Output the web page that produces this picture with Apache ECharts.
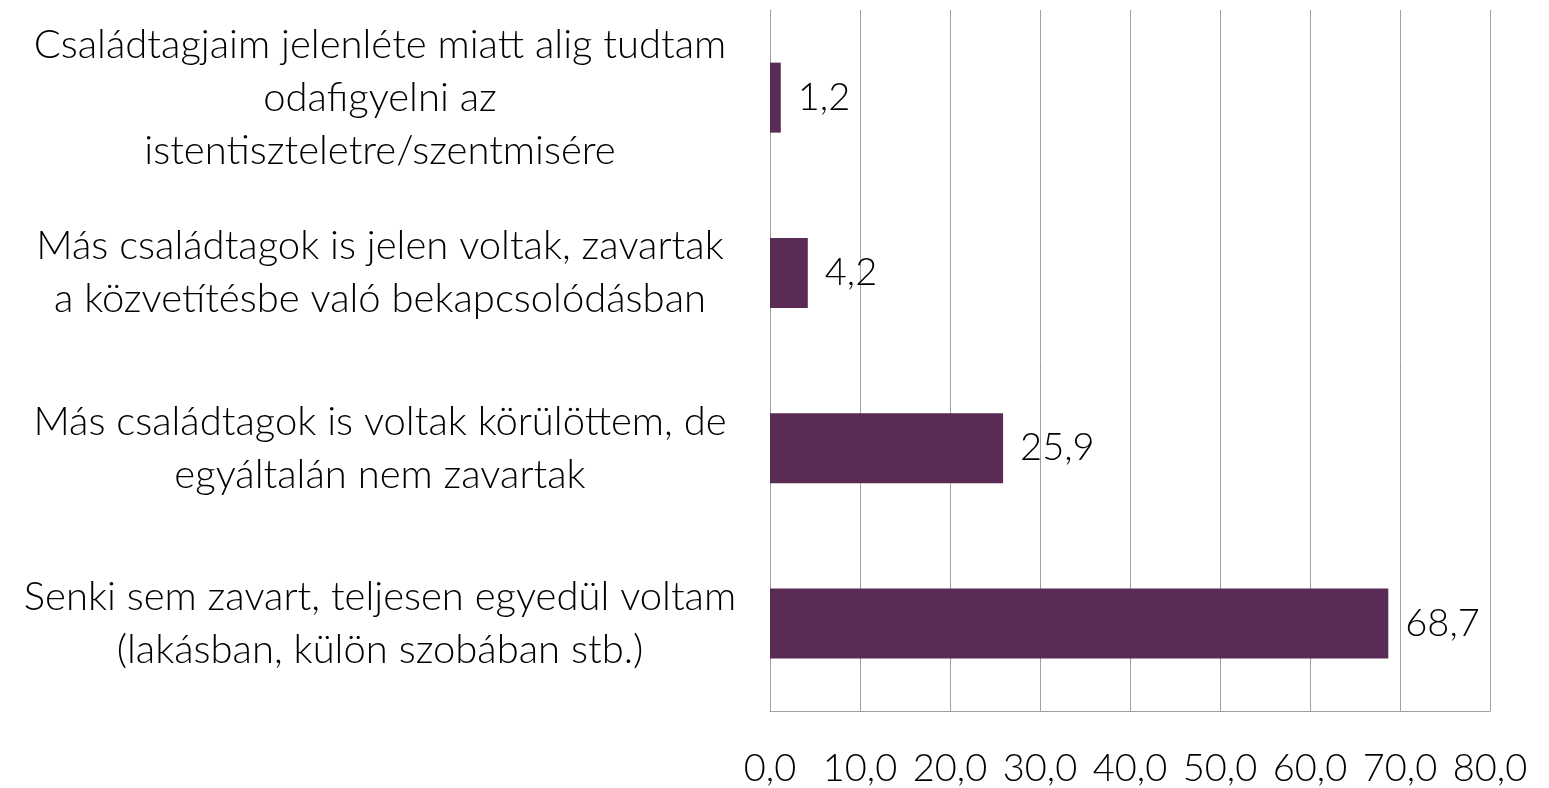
<!DOCTYPE html>
<html>
<head>
<meta charset="utf-8">
<script src="https://cdn.jsdelivr.net/npm/echarts@6/dist/echarts.min.js"></script>
<style>
    html, body { margin: 0; padding: 0; background: #fff; }
    #chart { width: 1549px; height: 788px; }
</style>
</head>
<body>
<div id="chart"></div>
<script>
// kategóriák felülről lefelé
var categories = [
    'Családtagjaim jelenléte miatt alig tudtam\nodafigyelni az\nistentiszteletre/szentmisére',
    'Más családtagok is jelen voltak, zavartak\na közvetítésbe való bekapcsolódásban',
    'Más családtagok is voltak körülöttem, de\negyáltalán nem zavartak',
    'Senki sem zavart, teljesen egyedül voltam\n(lakásban, külön szobában stb.)'
];
var values = [1.2, 4.2, 25.9, 68.7];
var xMin = 0;
var xMax = 80;
var xStep = 10;

var myChart = echarts.init(document.getElementById('chart'));
var font = 'Lato, sans-serif';
var option = {
    animation: false,
    grid: {
        top: 10,
        left: 770,
        right: 59,
        bottom: 75
    },
    xAxis: {
        type: 'value',
        min: xMin,
        max: xMax,
        interval: xStep,
        axisLine: { show: true, lineStyle: { color: '#a0a0a0' } },
        axisTick: { show: false },
        splitLine: { lineStyle: { color: '#a0a0a0' } },
        axisLabel: {
            margin: 39,
            fontFamily: font,
            fontWeight: 300,
            fontSize: 38,
            color: '#000',
            formatter: function (v) {
                return v.toFixed(1).replace('.', ',');
            }
        }
    },
    yAxis: {
        type: 'category',
        inverse: true,
        data: categories,
        axisLine: { show: true, lineStyle: { color: '#a0a0a0' } },
        axisTick: { show: false },
        axisLabel: {
            align: 'center',
            margin: 390,
            fontFamily: font,
            fontWeight: 300,
            fontSize: 40,
            lineHeight: 53,
            color: '#000'
        }
    },
    series: [
        {
            type: 'bar',
            data: values,
            barWidth: 70,
            itemStyle: { color: '#5a2b55' },
            label: {
                show: true,
                position: 'right',
                distance: 17,
                fontFamily: font,
                fontWeight: 300,
                fontSize: 38,
                color: '#000',
                formatter: function (p) {
                    return p.value.toFixed(1).replace('.', ',');
                }
            }
        }
    ]
};
myChart.setOption(option);
</script>
</body>
</html>
